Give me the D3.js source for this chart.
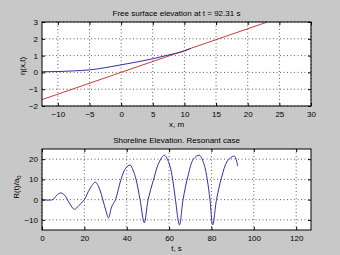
<!DOCTYPE html>
<html>
<head>
<meta charset="utf-8">
<script src="https://cdn.jsdelivr.net/npm/d3@7"></script>
<style>
  html, body { margin: 0; padding: 0; background: #c8c8c8; }
  svg { display: block; font-family: "Liberation Sans", Arial, sans-serif; }
</style>
</head>
<body>
<svg id="chart" width="340" height="255"></svg>
<script>
// Top panel: free surface at t = 92.31 s
const surfX = [-12.5, -10, -7.5, -5, -2.5, 0, 2.5, 5, 7.5, 10, 11];
const surfEta = [0.04, 0.05, 0.09, 0.15, 0.28, 0.45, 0.62, 0.81, 1.04, 1.27, 1.42];
const beachX = [-12.5, 23.1];
const beachZ = [-1.62, 3.0];
const topXTicks = [-10, -5, 0, 5, 10, 15, 20, 25, 30];
const topYTicks = [-2, -1, 0, 1, 2, 3];

// Bottom panel: shoreline elevation, resonant case
const runT = [0, 5, 7, 8.6, 10.5, 13, 15.3, 17.5, 20, 22.5, 25.2, 27.2, 28.7, 30.2, 31.4,
  32.9, 34.7, 37.3, 39.5, 41.6, 43, 44.4, 46.3, 48.3, 50.1, 52.7, 55.3, 57.8, 60.1, 61.7,
  63, 64.9, 66.6, 69, 71.5, 74.3, 76.5, 78, 79.3, 80.6, 82.4, 84.8, 87.5, 90.8, 92.4];
const runR = [0, 0, 2.2, 3.3, 2.4, -1.8, -4.8, -2.8, 0, 5.2, 8.6, 5.2, 0, -5.5, -9,
  -3.5, 0, 10, 15.5, 17.1, 14.5, 10, 0, -11.4, 0, 10, 18.5, 21.9, 17.6, 10,
  0, -12.5, 0, 12, 20, 21.9, 17.5, 10, 0, -12.5, 0, 11, 19, 21.5, 16.5];
const botXTicks = [0, 20, 40, 60, 80, 100, 120];
const botYTicks = [-10, 0, 10, 20];

const svg = d3.select("#chart");

function panel(o) {
  const x = d3.scaleLinear().domain(o.xDom).range([o.left, o.right]);
  const y = d3.scaleLinear().domain(o.yDom).range([o.bottom, o.top]);
  const g = svg.append("g");

  g.append("rect")
    .attr("x", o.left).attr("y", o.top)
    .attr("width", o.right - o.left).attr("height", o.bottom - o.top)
    .attr("fill", "#fff");

  // dotted grid
  g.selectAll(".gx").data(o.xTicks).enter().append("line")
    .attr("x1", d => x(d)).attr("x2", d => x(d))
    .attr("y1", o.top).attr("y2", o.bottom)
    .attr("stroke", "#333").attr("stroke-width", 0.8)
    .attr("stroke-dasharray", "1 2.5");
  g.selectAll(".gy").data(o.yTicks).enter().append("line")
    .attr("x1", o.left).attr("x2", o.right)
    .attr("y1", d => y(d)).attr("y2", d => y(d))
    .attr("stroke", "#333").attr("stroke-width", 0.8)
    .attr("stroke-dasharray", "1 2.5");

  const clipId = "clip" + o.top;
  svg.append("clipPath").attr("id", clipId).append("rect")
    .attr("x", o.left).attr("y", o.top)
    .attr("width", o.right - o.left).attr("height", o.bottom - o.top);
  const plot = g.append("g").attr("clip-path", `url(#${clipId})`);
  o.series.forEach(s => {
    plot.append("path")
      .datum(d3.range(s.xs.length))
      .attr("fill", "none")
      .attr("stroke", s.color)
      .attr("stroke-width", 1)
      .attr("d", d3.line().x(i => x(s.xs[i])).y(i => y(s.ys[i])).curve(s.curve || d3.curveLinear));
  });

  // axes with inward ticks
  const fmt = d3.format("d");
  const style = a => a.call(s => s.select(".domain").remove())
    .call(s => s.selectAll("line").attr("stroke", "#000"))
    .call(s => s.selectAll("text").attr("font-size", 8).attr("fill", "#000").attr("font-family", null));
  g.append("g").attr("transform", `translate(0,${o.bottom})`)
    .call(d3.axisBottom(x).tickValues(o.xTicks).tickFormat(fmt).tickSize(-3).tickPadding(5)).call(style);
  g.append("g").attr("transform", `translate(0,${o.top})`)
    .call(d3.axisTop(x).tickValues(o.xTicks).tickSize(-3).tickFormat("")).call(style);
  g.append("g").attr("transform", `translate(${o.left},0)`)
    .call(d3.axisLeft(y).tickValues(o.yTicks).tickFormat(fmt).tickSize(-3).tickPadding(4)).call(style);
  g.append("g").attr("transform", `translate(${o.right},0)`)
    .call(d3.axisRight(y).tickValues(o.yTicks).tickSize(-3).tickFormat("")).call(style);

  g.append("rect")
    .attr("x", o.left).attr("y", o.top)
    .attr("width", o.right - o.left).attr("height", o.bottom - o.top)
    .attr("fill", "none").attr("stroke", "#000").attr("stroke-width", 1);

  g.append("text")
    .attr("x", (o.left + o.right) / 2).attr("y", o.top - 6)
    .attr("text-anchor", "middle").attr("font-size", 8)
    .text(o.title);
  g.append("text")
    .attr("x", (o.left + o.right) / 2).attr("y", o.bottom + 21)
    .attr("text-anchor", "middle").attr("font-size", 8)
    .text(o.xLabel);
  return { g, x, y };
}

const p1 = panel({
  left: 42, right: 311, top: 22, bottom: 106,
  xDom: [-12.5, 30], yDom: [-2, 3],
  xTicks: topXTicks, yTicks: topYTicks,
  title: "Free surface elevation at t = 92.31 s", xLabel: "x, m",
  series: [
    { xs: beachX, ys: beachZ, color: "#c83c3c" },
    { xs: surfX, ys: surfEta, color: "#3030a8", curve: d3.curveMonotoneX }
  ]
});
p1.g.append("text")
  .attr("transform", "translate(25,66) rotate(-90)")
  .attr("text-anchor", "middle").attr("font-size", 8)
  .text("η(x,t)");

const p2 = panel({
  left: 42, right: 311, top: 149, bottom: 230,
  xDom: [0, 127], yDom: [-15, 25],
  xTicks: botXTicks, yTicks: botYTicks,
  title: "Shoreline Elevation. Resonant case", xLabel: "t, s",
  series: [
    { xs: runT, ys: runR, color: "#3030a8", curve: d3.curveCatmullRom.alpha(0.5) }
  ]
});
const yl = p2.g.append("text")
  .attr("transform", "translate(19,187) rotate(-90)")
  .attr("text-anchor", "middle").attr("font-size", 8);
yl.append("tspan").text("R(t)/a");
yl.append("tspan").attr("font-size", 6).attr("dy", 2).text("0");
</script>
</body>
</html>
